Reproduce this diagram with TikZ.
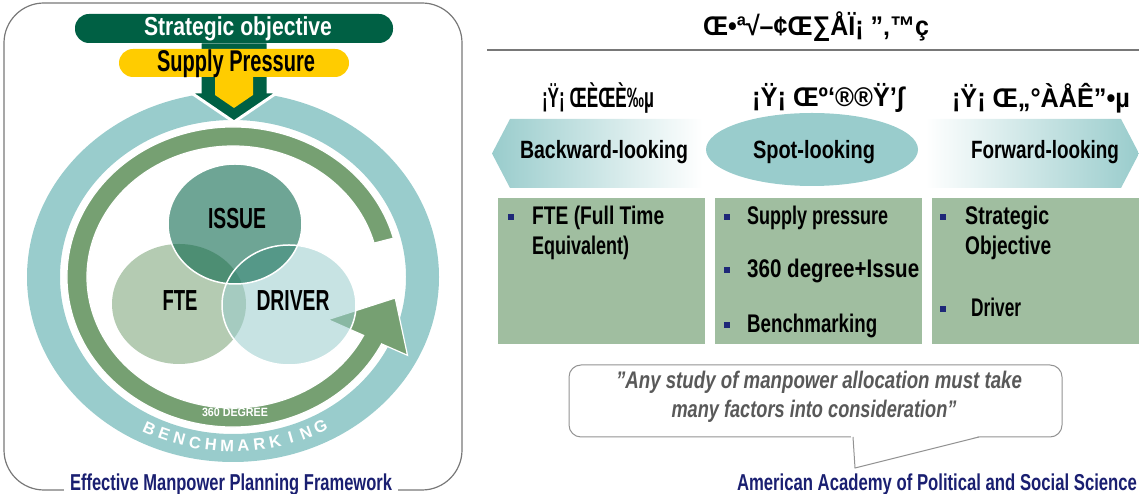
\documentclass[tikz,border=0pt]{standalone}
\usepackage{fontspec}
\setmainfont{Liberation Sans}
\usepackage{graphicx}
\definecolor{dkgreen}{RGB}{0,96,68}
\definecolor{ygold}{RGB}{255,204,0}
\definecolor{tealr}{RGB}{153,204,204}
\definecolor{greenr}{RGB}{118,160,114}
\definecolor{sage}{RGB}{160,190,160}
\definecolor{navy}{RGB}{26,31,113}
\definecolor{framec}{RGB}{120,120,120}
\definecolor{quotec}{RGB}{89,89,89}
\definecolor{bulc}{RGB}{30,40,120}
\newcommand{\fw}[2]{\resizebox{#1pt}{\height}{#2}}
\begin{document}
\begin{tikzpicture}[x=1pt,y=1pt,
  tx/.style={inner sep=0pt, font=\bfseries\fontsize{#1}{#1}\selectfont},
  bul/.style={fill=bulc, minimum width=5.5pt, minimum height=6pt, inner sep=0pt},
  pill/.style={rounded corners=14pt, inner sep=0pt},
  box/.style={fill=sage, inner sep=0pt, minimum width=207pt, minimum height=146pt}]
\useasboundingbox (0,0) rectangle (1139,494);
% ---------- left panel ----------
\draw[framec, line width=1.2pt, rounded corners=40pt] (4,4) rectangle (462,491);
\begin{scope}[shift={(233,217)}]
  \fill[tealr, even odd rule] (0,0) ellipse [x radius=206, y radius=185]
                              (0,0) ellipse [x radius=173, y radius=157];
  \filldraw[fill=greenr, draw=white, line width=1.2pt]
    (15:166 and 150) arc[start angle=15, end angle=333.5, x radius=166, y radius=150]
    -- (174.5,-78.3) -- (162.2,-21) -- (94.9,-42.6)
    -- (333.5:146 and 131) arc[start angle=333.5, end angle=15, x radius=146, y radius=131] -- cycle;
  \foreach \l [count=\i from 0] in {B,E,N,C,H,M,A,R,K,I,N,G} {
    \pgfmathsetmacro{\ang}{243.6+\i*4.92}
    \node[tx=16.5, text=white, rotate={atan2(168*cos(\ang), -187*sin(\ang))}] (bm\i) at (\ang:188 and 169) {\l};
  }
\end{scope}
\node[tx=12, text=white] (deg) at (235,82) {\fw{66}{360 DEGREE}};
% venn
\fill[greenr, fill opacity=0.55] (179,190) ellipse [x radius=67, y radius=60];
\fill[tealr, fill opacity=0.55] (289,189) ellipse [x radius=67, y radius=60];
\fill[dkgreen, fill opacity=0.57] (235,270) ellipse [x radius=67, y radius=60];
\draw[white, line width=1.5pt] (289,189) ellipse [x radius=67, y radius=60];
\draw[white, line width=1.5pt] (235,270) ellipse [x radius=67, y radius=60];
\node[tx=29] (issue) at (237,275.5) {\fw{58}{ISSUE}};
\node[tx=29] (fte) at (180,193) {\fw{35}{FTE}};
\node[tx=29] (driver) at (293,193) {\fw{73}{DRIVER}};
% down arrow
\filldraw[fill=dkgreen, draw=white, line width=3pt]
  (200,452) -- (268,452) -- (268,402) -- (278,402) -- (234,372) -- (190,402) -- (200,402) -- cycle;
\fill[ygold] (215,418) -- (253,418) -- (253,399) -- (234,386) -- (215,399) -- cycle;
% pills
\node[pill, fill=dkgreen, minimum width=318pt, minimum height=29pt] (strat) at (234,465.5) {};
\node[tx=26, text=white, anchor=base] (strattxt) at (238,458.5) {\fw{188}{Strategic objective}};
\node[pill, fill=ygold, minimum width=230pt, minimum height=28pt] (supply) at (234,431) {};
\node[tx=30, anchor=base] (supplytxt) at (236,422) {\fw{158}{Supply Pressure}};
% frame title
\node[tx=23, text=navy, fill=white, inner xsep=6pt, inner ysep=2pt, anchor=base] (lefttitle) at (231,3) {\fw{322}{Effective Manpower Planning Framework}};
% ---------- right panel ----------
\node[tx=27] (title) at (816,467) {\fw{226}{Œ•ª√–¢Œ∑ÅÏ¡ ”‚™ç}};
\coordinate (rl) at (487,444);
\coordinate (rr) at (1139,444);
\draw[framec, line width=1.3pt] (rl) -- (rr);
\node[tx=28] (h1) at (598,396) {\fw{112}{¡Ÿ¡ ŒÈŒÈ‰µ}};
\node[tx=27] (h2) at (828,396) {\fw{152}{¡Ÿ¡ Œº‘®®Ÿ’∫}};
\node[tx=27] (h3) at (1041,396) {\fw{178}{¡Ÿ¡ Œ„°ÀÅÊ”•µ}};
% chevrons
\shade[left color=tealr, right color=white] (492,340.5) -- (510,375) -- (703,375) -- (703,306) -- (510,306) -- cycle;
\shade[left color=white, right color=tealr] (925,306) -- (925,375) -- (1121,375) -- (1139,340.5) -- (1121,306) -- cycle;
\fill[tealr] (812,344.5) ellipse [x radius=106, y radius=36.5];
\node[tx=25] (back) at (604,342) {\fw{168}{Backward-looking}};
\node[tx=25] (spot) at (814,342) {\fw{122}{Spot-looking}};
\node[tx=25] (fwd) at (1045,342) {\fw{148}{Forward-looking}};
% boxes
\node[box] (box1) at (601.5,222.5) {};
\node[box] (box2) at (818,222.5) {};
\node[box] (box3) at (1035,222.5) {};
\node[bul] (b11) at (511,277) {};
\node[tx=25.5, anchor=base west] (t11) at (532,269) {\fw{132}{FTE (Full Time}};
\node[tx=25.5, anchor=base west] (t12) at (532,239) {\fw{97}{Equivalent)}};
\node[bul] (b21) at (727,277) {};
\node[tx=25.5, anchor=base west] (t21) at (747,269) {\fw{141}{Supply pressure}};
\node[bul] (b22) at (727,224) {};
\node[tx=25.5, anchor=base west] (t22) at (747,216) {\fw{172}{360 degree+Issue}};
\node[bul] (b23) at (727,169) {};
\node[tx=25.5, anchor=base west] (t23) at (747,161) {\fw{130}{Benchmarking}};
\node[bul] (b31) at (943,277) {};
\node[tx=25.5, anchor=base west] (t31) at (965,269) {\fw{84}{Strategic}};
\node[tx=25.5, anchor=base west] (t32) at (965,239) {\fw{86}{Objective}};
\node[bul] (b33) at (943,185) {};
\node[tx=25.5, anchor=base west] (t33) at (971,177) {\fw{50}{Driver}};
% callout
\node[draw=framec!80, line width=1pt, rounded corners=12pt, fill=white, minimum width=493pt, minimum height=72pt, inner sep=0pt] (callout) at (815.5,93) {};
\coordinate (tl) at (853,57);
\coordinate (tip) at (855,26);
\coordinate (tr) at (979,57);
\fill[white] (851,58.3) -- (tip) -- (981,58.3) -- cycle;
\draw[framec!80, line width=1pt] (tl) -- (tip) -- (tr);
\node[tx=24, text=quotec] (q1) at (819,112) {\itshape\fw{406}{"Any study of manpower allocation must take}};
\node[tx=24, text=quotec] (q2) at (814,83) {\itshape\fw{285}{many factors into consideration"}};
\node[tx=23, text=navy, anchor=base] (aapss) at (937,3) {\fw{400}{American Academy of Political and Social Science}};
\end{tikzpicture}
\end{document}
